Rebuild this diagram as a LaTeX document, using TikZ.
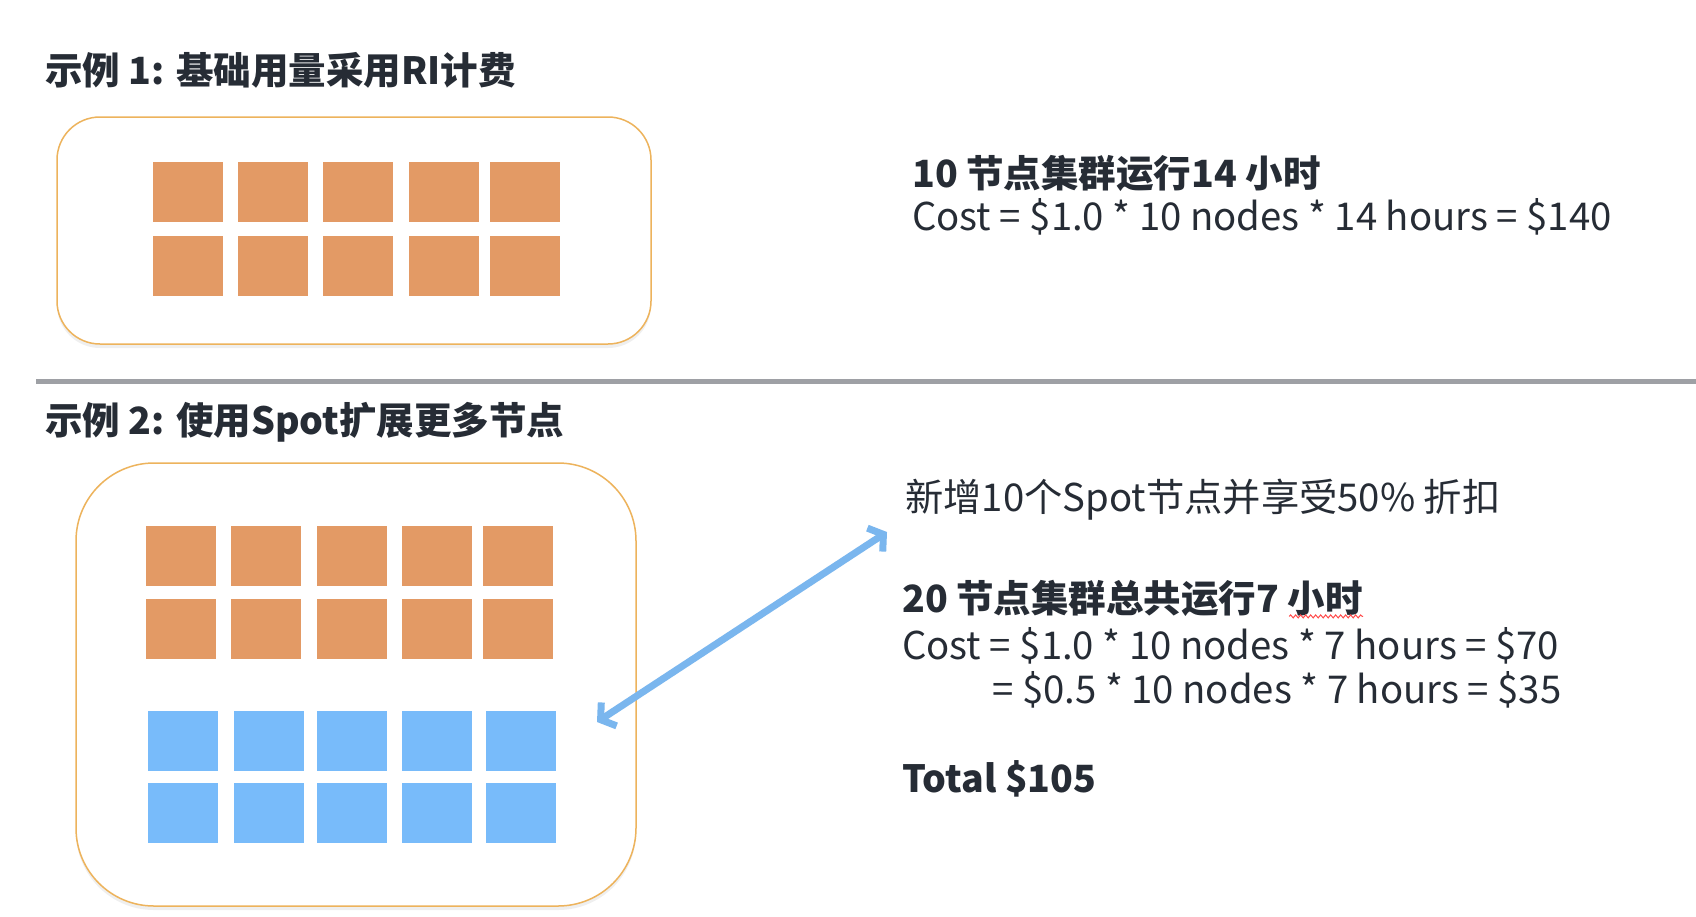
\documentclass[tikz,border=0pt]{standalone}
\usepackage{fontspec}
\setmainfont{Noto Sans CJK SC}
\usetikzlibrary{positioning,calc,arrows.meta,shadows,decorations.pathmorphing}
\definecolor{inkdark}{HTML}{262C35}
\definecolor{rinode}{HTML}{E39A65}
\definecolor{spotnode}{HTML}{78BBFA}
\definecolor{boxedge}{HTML}{EDB35C}
\definecolor{rulegray}{HTML}{9EA0A5}
\definecolor{arrowblue}{HTML}{7AB6EE}
\tikzset{font=\fontsize{38.3}{46}\selectfont}

\begin{document}
\begin{tikzpicture}[x=1pt,y=-1pt]
	\useasboundingbox (0,0) rectangle (1696,916);
	\fill[white] (0,0) rectangle (1696,916);
	\begin{scope}
		\tikzstyle{every node}=[inner sep=0pt, text=inkdark, anchor=west]
		\tikzstyle{heading}=[font=\fontsize{37.5}{45}\selectfont\bfseries]
		\tikzstyle{cluster}=[draw=boxedge, line width=1.5pt, fill=white, anchor=center, drop shadow={opacity=0.12, shadow xshift=0pt, shadow yshift=-4pt}]
		\tikzstyle{ri}=[fill=rinode, minimum width=70pt, minimum height=60pt, anchor=north west]
		\tikzstyle{spot}=[ri, fill=spotnode]

		% example 1
		\node[heading] (title1) at (45, 70) {示例 1: 基础用量采用RI计费};
		\node[cluster, rounded corners=43pt, minimum width=594pt, minimum height=227pt] (box1) at (354, 230.5) {};
		\foreach \x [count=\i] in {153,238,323,409,490} {
			\node[ri] (ria\i) at (\x, 162) {};
			\node[ri] (rib\i) at (\x, 236) {};
		}
		\node[heading] (note1) at (912, 173) {10 节点集群运行14 小时};
		\node (cost1) at (912, 217) {Cost = \$1.0 * 10 nodes * 14 hours = \$140};

		\draw[rulegray, line width=5pt] (36, 381) -- (1696, 381);

		% example 2
		\node[heading] (title2) at (45, 422) {示例 2: 使用Spot扩展更多节点};
		\node[cluster, rounded corners=78pt, minimum width=560pt, minimum height=443pt] (box2) at (356, 684.5) {};
		\foreach \x [count=\i] in {146,231,317,402,483} {
			\node[ri] (rxa\i) at (\x, 526) {};
			\node[ri] (rxb\i) at (\x, 599) {};
		}
		\foreach \x [count=\i] in {148,234,317,402,486} {
			\node[spot] (spa\i) at (\x, 711) {};
			\node[spot] (spb\i) at (\x, 783) {};
		}
		\node (note2) at (905, 500) {新增10个Spot节点并享受50\% 折扣};
		\node[heading] (head2) at (902, 598) {20 节点集群总共运行7 小时};
		\node (cost2a) at (902, 646) {Cost = \$1.0 * 10 nodes * 7 hours = \$70};
		\node (cost2b) at (992, 690) {= \$0.5 * 10 nodes * 7 hours = \$35};
		\node[heading] (total) at (902, 779) {Total \$105};

		\coordinate (spottip) at (887, 532);
		\coordinate (clustertip) at (597, 722);
		\draw[arrowblue, line width=7pt, {Straight Barb[length=10pt,width=28pt,line width=7pt]}-{Straight Barb[length=10pt,width=28pt,line width=7pt]}] (clustertip) -- (spottip);
		\draw[red!70, line width=1pt, decorate, decoration={snake, amplitude=1.5pt, segment length=5pt}] ($(head2.south east)+(-74,0)$) -- (head2.south east);
	\end{scope}
\end{tikzpicture}
\end{document}
